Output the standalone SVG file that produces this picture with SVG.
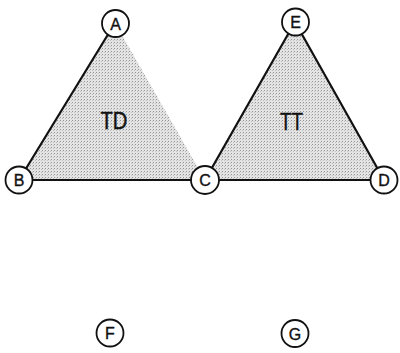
<svg xmlns="http://www.w3.org/2000/svg" width="400" height="353" viewBox="0 0 400 353">
  <style>
    .edge { stroke: #111; stroke-width: 2.2; fill: none; stroke-linecap: round; }
    .node circle { fill: #fff; stroke: #111; stroke-width: 1.8; }
    .node text { font-family: "Liberation Sans", Arial, sans-serif; font-size: 16px; fill: #111; stroke: #111; stroke-width: 0.35; text-anchor: middle; }
    .label { font-family: "Liberation Sans", Arial, sans-serif; font-size: 23px; fill: #111; stroke: #111; stroke-width: 0.4; text-anchor: middle; }
  </style>
  <defs>
    <!-- stippled halftone fill -->
    <pattern id="stipple" width="3" height="3" patternUnits="userSpaceOnUse">
      <rect width="3" height="3" fill="#e4e4e4"/>
      <rect x="0" y="0" width="1" height="1" fill="#959595"/>
      <rect x="2" y="1" width="1" height="1" fill="#c0c0c0"/>
    </pattern>
  </defs>
  <rect width="400" height="353" fill="#fff"/>

  <!-- shaded triangles -->
  <g id="regions">
    <polygon points="115,23 19,180 205,180" fill="url(#stipple)"/>
    <polygon points="295,22 205,180 384,180" fill="url(#stipple)"/>
    <text class="label" x="114" y="128.5" textLength="27" lengthAdjust="spacingAndGlyphs">TD</text>
    <text class="label" x="291.5" y="130" textLength="23" lengthAdjust="spacingAndGlyphs">TT</text>
  </g>

  <!-- connectors -->
  <g id="edges">
    <line class="edge" x1="115" y1="23" x2="19" y2="180"/>
    <line class="edge" x1="19" y1="180" x2="205" y2="180"/>
    <line class="edge" x1="205" y1="180" x2="384" y2="180"/>
    <line class="edge" x1="295" y1="22" x2="205" y2="180"/>
    <line class="edge" x1="295" y1="22" x2="384" y2="180"/>
  </g>

  <g id="node-A" class="node"><circle cx="115.5" cy="23.5" r="13.5"/><text x="115.5" y="29.5">A</text></g>
  <g id="node-B" class="node"><circle cx="19" cy="180" r="13.5"/><text x="19" y="186">B</text></g>
  <g id="node-C" class="node"><circle cx="205" cy="180" r="14"/><text x="205" y="186">C</text></g>
  <g id="node-D" class="node"><circle cx="384" cy="180" r="13.5"/><text x="384" y="186">D</text></g>
  <g id="node-E" class="node"><circle cx="295.5" cy="22" r="13.5"/><text x="295.5" y="28">E</text></g>
  <g id="node-F" class="node"><circle cx="110" cy="333" r="13.5"/><text x="110" y="339">F</text></g>
  <g id="node-G" class="node"><circle cx="295" cy="333.5" r="13.5"/><text x="295" y="339.5">G</text></g>
</svg>
